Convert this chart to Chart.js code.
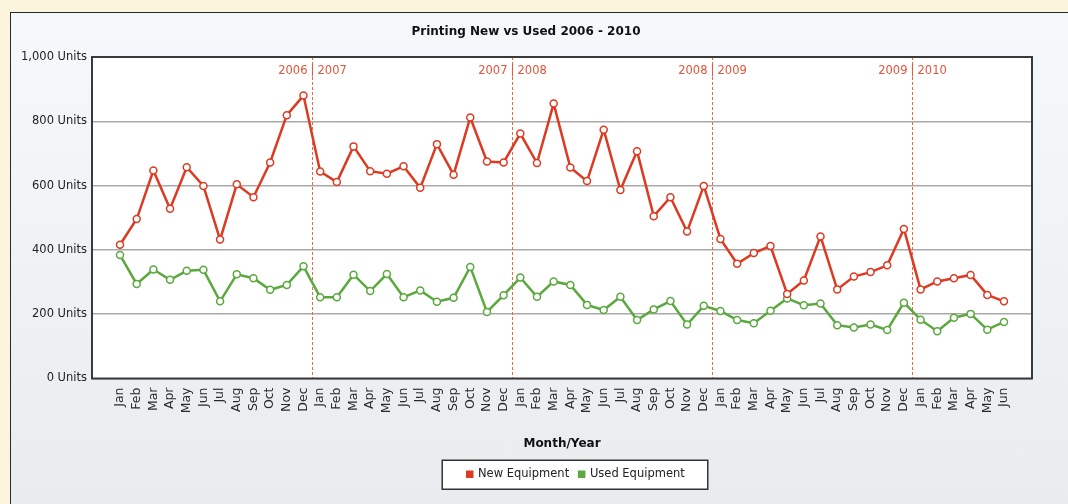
<!DOCTYPE html>
<html>
<head>
<meta charset="utf-8">
<script src="https://cdn.jsdelivr.net/npm/chart.js@4.4.1/dist/chart.umd.min.js"></script>
<style>
  html, body { margin: 0; padding: 0; }
  body { width: 1068px; height: 504px; background: #fbf5de; position: relative; overflow: hidden; }
  #panel {
    position: absolute; left: 10px; top: 12px; right: -2px; bottom: -2px;
    border: 1px solid #2a2a2a;
    background: linear-gradient(#f6f9fb, #e8ecef);
  }
  #wrap { position: absolute; left: 0; top: 0; width: 1068px; height: 504px; }
</style>
</head>
<body>
<div id="panel"></div>
<div id="wrap"><canvas id="chart1"></canvas></div>
<script>
// data
var months = [
  "Jan", "Feb", "Mar", "Apr", "May", "Jun", "Jul", "Aug", "Sep", "Oct", "Nov", "Dec",
  "Jan", "Feb", "Mar", "Apr", "May", "Jun", "Jul", "Aug", "Sep", "Oct", "Nov", "Dec",
  "Jan", "Feb", "Mar", "Apr", "May", "Jun", "Jul", "Aug", "Sep", "Oct", "Nov", "Dec",
  "Jan", "Feb", "Mar", "Apr", "May", "Jun", "Jul", "Aug", "Sep", "Oct", "Nov", "Dec",
  "Jan", "Feb", "Mar", "Apr", "May", "Jun"
];
var newEquipment = [
  416, 496, 647, 528, 657, 599, 432, 604, 564, 672, 819, 880,
  644, 611, 722, 645, 637, 660, 593, 729, 634, 812, 675, 672,
  762, 670, 855, 656, 614, 774, 586, 707, 505, 564, 457, 599,
  434, 357, 390, 412, 263, 305, 442, 277, 317, 331, 352, 465,
  277, 302, 312, 322, 260, 240
];
var usedEquipment = [
  384, 294, 339, 307, 335, 338, 240, 324, 312, 276, 291, 349,
  253, 253, 323, 272, 325, 253, 274, 239, 251, 347, 207, 259,
  314, 254, 302, 291, 229, 213, 254, 182, 215, 241, 168, 226,
  210, 182, 172, 211, 249, 228, 233, 166, 159, 168, 151, 236,
  183, 147, 189, 201, 152, 176
];
var yearBreaks = ["2006 | 2007", "2007 | 2008", "2008 | 2009", "2009 | 2010"];
var yTicks = [0, 200, 400, 600, 800, 1000];

var red = "#dc3a22";
var green = "#5aa83e";
var FONT = "'DejaVu Sans', Verdana, sans-serif";

function toPoints(arr) {
  return arr.map(function (v, i) { return { x: i, y: v }; });
}

// chart area background, legend frame, year separators, plot border
var decor = {
  id: "decor",
  afterLayout: function (chart) {
    // legend sits a bit right of centre in the original
    chart.legend.left += 50;
    chart.legend.right += 50;
  },
  beforeDraw: function (chart) {
    var c = chart.ctx, a = chart.chartArea;
    c.save();
    c.fillStyle = "#ffffff";
    c.fillRect(a.left, a.top, a.right - a.left, a.bottom - a.top);
    var hb = chart.legend.legendHitBoxes;
    if (hb && hb.length) {
      var l = hb[0].left - 25;
      var r = hb[hb.length - 1].left + hb[hb.length - 1].width + 23;
      var cy = hb[0].top + hb[0].height / 2;
      c.fillStyle = "#ffffff";
      c.fillRect(l, cy - 14, r - l, 29);
      c.strokeStyle = "#333333";
      c.lineWidth = 1.5;
      c.strokeRect(l, cy - 14, r - l, 29);
    }
    c.restore();
  },
  beforeDatasetsDraw: function (chart) {
    var c = chart.ctx, a = chart.chartArea, xs = chart.scales.x;
    c.save();
    c.strokeStyle = "#e8693f";
    c.lineWidth = 1;
    c.setLineDash([3, 2]);
    c.font = "11.5px " + FONT;
    c.fillStyle = "#e0553a";
    c.textBaseline = "middle";
    yearBreaks.forEach(function (txt, k) {
      var px = Math.round(xs.getPixelForValue(12 * (k + 1) - 0.5)) + 0.5;
      c.beginPath();
      c.moveTo(px, a.top);
      c.lineTo(px, a.bottom);
      c.stroke();
      var parts = txt.split(" | ");
      c.textAlign = "right";
      c.fillText(parts[0], px - 5, a.top + 14);
      c.textAlign = "center";
      c.fillText("|", px, a.top + 14);
      c.textAlign = "left";
      c.fillText(parts[1], px + 5, a.top + 14);
    });
    c.setLineDash([]);
    c.strokeStyle = "#3a3a3a";
    c.lineWidth = 2;
    c.strokeRect(a.left, a.top, a.right - a.left, a.bottom - a.top);
    c.restore();
  }
};

var ctx = document.getElementById("chart1").getContext("2d");
var myChart = new Chart(ctx, {
  type: "line",
  data: {
    datasets: [
      {
        label: "New Equipment",
        data: toPoints(newEquipment),
        borderColor: red,
        backgroundColor: red,
        borderWidth: 2.5,
        pointRadius: 3.5,
        pointBorderWidth: 1.5,
        pointBackgroundColor: "#ffffff",
        pointBorderColor: red,
        tension: 0,
        fill: false,
      },
      {
        label: "Used Equipment",
        data: toPoints(usedEquipment),
        borderColor: green,
        backgroundColor: green,
        borderWidth: 2.5,
        pointRadius: 3.5,
        pointBorderWidth: 1.5,
        pointBackgroundColor: "#ffffff",
        pointBorderColor: green,
        tension: 0,
        fill: false,
      },
    ],
  },
  options: {
    responsive: true,
    maintainAspectRatio: false,
    animation: false,
    layout: {
      padding: { left: 20, right: 36, top: 0, bottom: 14 },
    },
    plugins: {
      title: {
        display: true,
        text: "Printing New vs Used 2006 - 2010",
        color: "#111111",
        font: { family: FONT, size: 12, weight: "bold" },
        padding: { top: 25, bottom: 17.6 },
      },
      legend: {
        position: "bottom",
        labels: {
          color: "#222222",
          font: { family: FONT, size: 11.5 },
          boxWidth: 5,
          boxHeight: 5,
          padding: 10,
        },
      },
      tooltip: { enabled: false },
    },
    scales: {
      x: {
        type: "linear",
        min: -1.68,
        max: months.length - 1 + 1.68,
        afterBuildTicks: function (scale) {
          scale.ticks = months.map(function (m, i) { return { value: i }; });
        },
        afterFit: function (scale) {
          scale.height = 80;
        },
        ticks: {
          autoSkip: false,
          minRotation: 90,
          maxRotation: 90,
          padding: 9,
          color: "#2a2a2a",
          font: { family: FONT, size: 12.5 },
          callback: function (v) { return months[v]; },
        },
        grid: { display: false, drawTicks: false },
        border: { display: false },
        title: {
          display: true,
          text: "Month/Year",
          color: "#111111",
          font: { family: FONT, size: 12, weight: "bold" },
          padding: { top: 10, bottom: 7 },
        },
      },
      y: {
        min: 0,
        max: 1000,
        afterBuildTicks: function (scale) {
          scale.ticks = yTicks.map(function (v) { return { value: v }; });
        },
        afterFit: function (scale) {
          scale.width = 72;
        },
        ticks: {
          padding: 5,
          color: "#222222",
          font: { family: FONT, size: 11.5 },
          callback: function (v) { return v.toLocaleString("en-US") + " Units"; },
        },
        grid: { color: "#a9a9a9", lineWidth: 1.5, drawTicks: false },
        border: { display: false },
      },
    },
  },
  plugins: [decor],
});
</script>
</body>
</html>
